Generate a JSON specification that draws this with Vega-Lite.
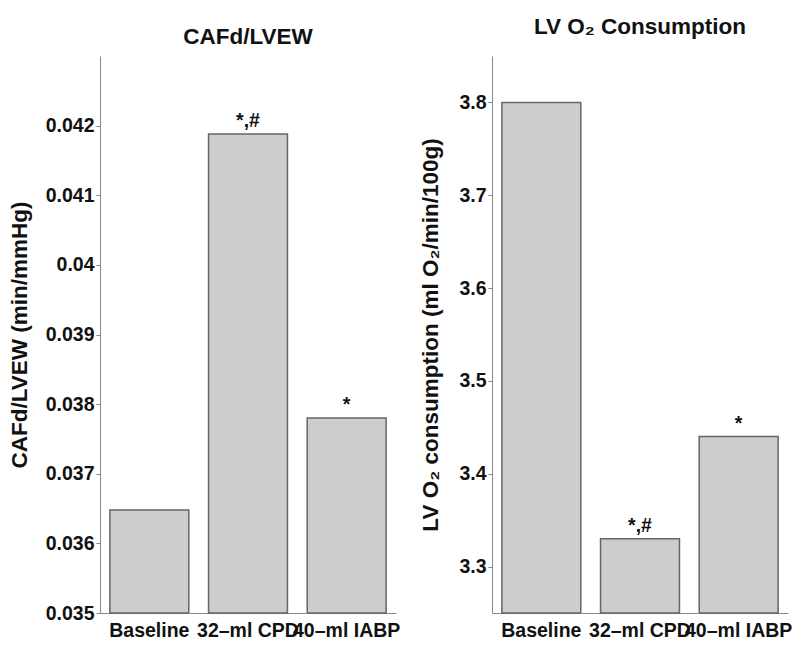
{
  "$schema": "https://vega.github.io/schema/vega-lite/v6.json",
  "padding": {"left": 8, "top": 15, "right": 6, "bottom": 10},
  "background": "white",
  "spacing": 96,
  "bounds": "flush",
  "datasets": {
    "cafd": [
      {"group": "Baseline", "value": 0.03648, "sig": ""},
      {"group": "32–ml CPD", "value": 0.04188, "sig": "*,#"},
      {"group": "40–ml IABP", "value": 0.0378, "sig": "*"}
    ],
    "o2": [
      {"group": "Baseline", "value": 3.8, "sig": ""},
      {"group": "32–ml CPD", "value": 3.33, "sig": "*,#"},
      {"group": "40–ml IABP", "value": 3.44, "sig": "*"}
    ]
  },
  "config": {
    "font": "Liberation Sans",
    "view": {"stroke": null},
    "title": {"fontSize": 22.5, "fontWeight": "bold", "color": "#111", "anchor": "middle"},
    "axis": {
      "domainColor": "#888",
      "tickColor": "#888",
      "labelColor": "#111",
      "labelFont": "Liberation Sans",
      "labelFontSize": 19.5,
      "labelFontWeight": "bold",
      "labelOverlap": false,
      "titleFont": "Liberation Sans",
      "titleFontSize": 22.5,
      "titleFontWeight": "bold",
      "titleColor": "#111",
      "grid": false
    }
  },
  "hconcat": [
    {
      "data": {"name": "cafd"},
      "width": 296,
      "height": 557,
      "title": {"text": "CAFd/LVEW", "offset": 8},
      "encoding": {
        "x": {
          "field": "group",
          "type": "nominal",
          "sort": null,
          "scale": {"paddingInner": 0.2, "paddingOuter": 0.1},
          "axis": {"title": null, "labelAngle": 0, "ticks": false, "labelPadding": 8}
        },
        "y": {
          "field": "value",
          "type": "quantitative",
          "scale": {"domain": [0.035, 0.043], "zero": false, "nice": false},
          "axis": {
            "title": "CAFd/LVEW (min/mmHg)",
            "values": [0.035, 0.036, 0.037, 0.038, 0.039, 0.04, 0.041, 0.042],
            "format": "~g",
            "tickSize": 4,
            "labelPadding": 2,
            "titlePadding": 14
          }
        }
      },
      "layer": [
        {
          "mark": {"type": "bar", "fill": "#cdcdcd", "stroke": "#666", "strokeWidth": 1.5},
          "encoding": {"y2": {"datum": 0.035}}
        },
        {
          "mark": {"type": "text", "dy": -7, "baseline": "alphabetic", "fontSize": 19.5, "fontWeight": "bold", "color": "#111"},
          "encoding": {"text": {"field": "sig"}}
        }
      ]
    },
    {
      "data": {"name": "o2"},
      "width": 296,
      "height": 557,
      "title": {"text": "LV O₂ Consumption", "offset": 18},
      "encoding": {
        "x": {
          "field": "group",
          "type": "nominal",
          "sort": null,
          "scale": {"paddingInner": 0.2, "paddingOuter": 0.1},
          "axis": {"title": null, "labelAngle": 0, "ticks": false, "labelPadding": 8}
        },
        "y": {
          "field": "value",
          "type": "quantitative",
          "scale": {"domain": [3.25, 3.85], "zero": false, "nice": false},
          "axis": {
            "title": "LV O₂ consumption (ml O₂/min/100g)",
            "values": [3.3, 3.4, 3.5, 3.6, 3.7, 3.8],
            "format": "~g",
            "tickSize": 4,
            "labelPadding": 2,
            "titlePadding": 16
          }
        }
      },
      "layer": [
        {
          "mark": {"type": "bar", "fill": "#cdcdcd", "stroke": "#666", "strokeWidth": 1.5},
          "encoding": {"y2": {"datum": 3.25}}
        },
        {
          "mark": {"type": "text", "dy": -7, "baseline": "alphabetic", "fontSize": 19.5, "fontWeight": "bold", "color": "#111"},
          "encoding": {"text": {"field": "sig"}}
        }
      ]
    }
  ]
}
